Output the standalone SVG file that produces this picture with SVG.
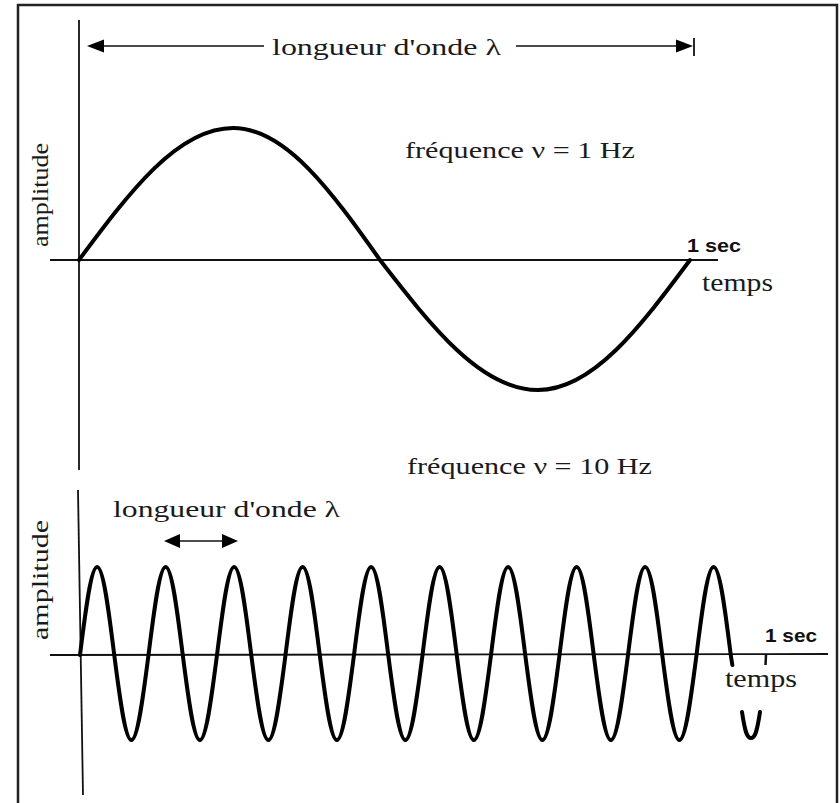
<svg xmlns="http://www.w3.org/2000/svg" width="840" height="803" viewBox="0 0 840 803">
<style>
.serif{font-family:"Liberation Serif","Times New Roman",serif;fill:#1a1a1a}
.sans{font-family:"Liberation Sans",Arial,sans-serif;font-weight:bold;fill:#111}
.axis{stroke:#111;stroke-width:1.8;fill:none}
.wave{stroke:#000;stroke-width:4;fill:none;stroke-linejoin:round;stroke-linecap:round}
.thin{stroke:#111;stroke-width:1.3;fill:none}
.head{fill:#000}
</style>
<rect width="840" height="803" fill="#fff"/>
<path d="M18,803 V5 H837 V803" fill="none" stroke="#222" stroke-width="2.5"/>

<g id="top-graph">
  <line class="axis" x1="79" y1="20" x2="79" y2="470"/>
  <line class="axis" x1="50" y1="260" x2="718" y2="260"/>
  <path class="wave" d="M79,260 C129.3,192.3 177.5,128 233,128 C286,128 332,192.3 380,260 C431.6,326.6 481,390 538,390 C592.8,390 640.4,326.6 690,260"/>
  <text class="serif" font-size="23" textLength="104" lengthAdjust="spacingAndGlyphs" text-anchor="middle" transform="translate(48,195) rotate(-90)">amplitude</text>
  <text class="serif" font-size="23" x="405" y="158" textLength="230" lengthAdjust="spacingAndGlyphs">fréquence ν = 1 Hz</text>
  <text class="sans" font-size="19" x="687" y="252" textLength="54" lengthAdjust="spacingAndGlyphs">1 sec</text>
  <text class="serif" font-size="25" x="702" y="291" textLength="71" lengthAdjust="spacingAndGlyphs">temps</text>
</g>

<g id="bottom-graph">
  <line class="axis" x1="78" y1="490" x2="83" y2="795"/>
  <line class="axis" x1="50" y1="655" x2="828" y2="654"/>
  <path class="wave" d="M80,655
    c5.59,-45.1 10.95,-88 17.125,-88 c6.17,0 11.54,42.9 17.125,88 c5.59,43.56 10.96,85 17.125,85 c6.17,0 11.54,-41.44 17.125,-85
    c5.59,-45.1 10.95,-88 17.125,-88 c6.17,0 11.54,42.9 17.125,88 c5.59,43.56 10.96,85 17.125,85 c6.17,0 11.54,-41.44 17.125,-85
    c5.59,-45.1 10.95,-88 17.125,-88 c6.17,0 11.54,42.9 17.125,88 c5.59,43.56 10.96,85 17.125,85 c6.17,0 11.54,-41.44 17.125,-85
    c5.59,-45.1 10.95,-88 17.125,-88 c6.17,0 11.54,42.9 17.125,88 c5.59,43.56 10.96,85 17.125,85 c6.17,0 11.54,-41.44 17.125,-85
    c5.59,-45.1 10.95,-88 17.125,-88 c6.17,0 11.54,42.9 17.125,88 c5.59,43.56 10.96,85 17.125,85 c6.17,0 11.54,-41.44 17.125,-85
    c5.59,-45.1 10.95,-88 17.125,-88 c6.17,0 11.54,42.9 17.125,88 c5.59,43.56 10.96,85 17.125,85 c6.17,0 11.54,-41.44 17.125,-85
    c5.59,-45.1 10.95,-88 17.125,-88 c6.17,0 11.54,42.9 17.125,88 c5.59,43.56 10.96,85 17.125,85 c6.17,0 11.54,-41.44 17.125,-85
    c5.59,-45.1 10.95,-88 17.125,-88 c6.17,0 11.54,42.9 17.125,88 c5.59,43.56 10.96,85 17.125,85 c6.17,0 11.54,-41.44 17.125,-85
    c5.59,-45.1 10.95,-88 17.125,-88 c6.17,0 11.54,42.9 17.125,88 c5.59,43.56 10.96,85 17.125,85 c6.17,0 11.54,-41.44 17.125,-85
    c5.59,-45.1 10.95,-88 17.125,-88 c6.17,0 11.54,42.9 17.125,88 l1.6,10"/>
  <path class="wave" d="M742,712 C745,732 747,738 751,738 C755,738 757,732 760,712"/>
  <line x1="766" y1="655" x2="765.5" y2="665" stroke="#111" stroke-width="2.5"/>
  <text class="serif" font-size="23" textLength="120" lengthAdjust="spacingAndGlyphs" text-anchor="middle" transform="translate(48,580) rotate(-90)">amplitude</text>
  <text class="serif" font-size="23" x="407" y="474" textLength="245" lengthAdjust="spacingAndGlyphs">fréquence ν = 10 Hz</text>
  <text class="sans" font-size="19" x="765" y="642" textLength="52" lengthAdjust="spacingAndGlyphs">1 sec</text>
  <text class="serif" font-size="25" x="725" y="687" textLength="72" lengthAdjust="spacingAndGlyphs">temps</text>
</g>

<g id="connectors">
  <line class="thin" x1="100" y1="46" x2="264" y2="46"/>
  <line class="thin" x1="516" y1="46" x2="680" y2="46"/>
  <polygon class="head" points="87,46 104,39.5 104,52.5"/>
  <polygon class="head" points="693,46 676,39.5 676,52.5"/>
  <line x1="694" y1="38" x2="694" y2="56" stroke="#111" stroke-width="1.8"/>
  <text class="serif" font-size="24" x="272" y="55" textLength="229" lengthAdjust="spacingAndGlyphs">longueur d'onde  λ</text>

  <line class="thin" x1="178" y1="541" x2="224" y2="541"/>
  <polygon class="head" points="164,541 180,534 180,548"/>
  <polygon class="head" points="238,541 222,534 222,548"/>
  <text class="serif" font-size="24" x="113" y="517" textLength="227" lengthAdjust="spacingAndGlyphs">longueur d'onde  λ</text>
</g>
</svg>
